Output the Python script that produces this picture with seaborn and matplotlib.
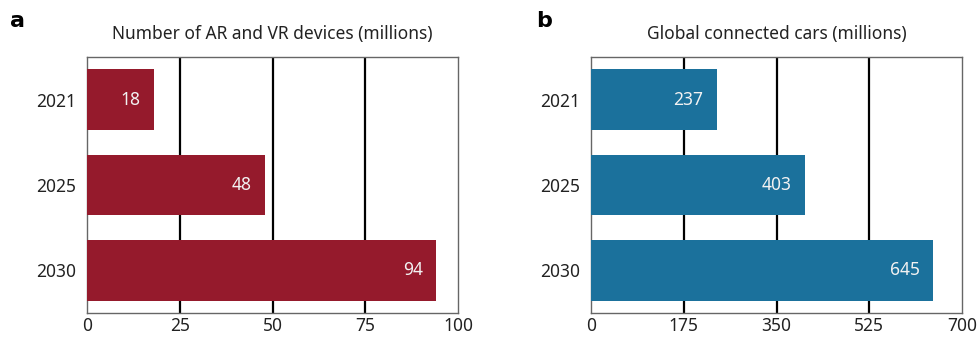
import matplotlib
matplotlib.use("Agg")
import matplotlib.pyplot as plt
import seaborn as sns
import pandas as pd

years = ["2021", "2025", "2030"]
arvr_values = [18, 48, 94]
cars_values = [237, 403, 645]
arvr_ticks = [0, 25, 50, 75, 100]
cars_ticks = [0, 175, 350, 525, 700]
arvr_title = "Number of AR and VR devices (millions)"
cars_title = "Global connected cars (millions)"

sns.set_style("white")
plt.rcParams['font.family'] = ['Noto Sans', 'DejaVu Sans']

fig = plt.figure(figsize=(9.79, 3.39), dpi=100)
W, H = 979, 339
ax_a = fig.add_axes([87 / W, 1 - 313 / H, 371 / W, 256 / H])
ax_b = fig.add_axes([591 / W, 1 - 313 / H, 371 / W, 256 / H])

panels = [
    (ax_a, arvr_values, arvr_ticks, arvr_title, "#951a2c", "a", 10 / W),
    (ax_b, cars_values, cars_ticks, cars_title, "#1b719c", "b", 536 / W),
]

for ax, vals, ticks, title, color, letter, lx in panels:
    df = pd.DataFrame({"year": years, "value": vals})
    sns.barplot(data=df, x="value", y="year", orient="h", color=color,
                width=0.71, ax=ax, saturation=1, zorder=3, linewidth=0,
                edgecolor="none")
    ax.set_xlim(ticks[0], ticks[-1])
    ax.set_ylim(2.5, -0.5)
    ax.set_xticks(ticks)
    ax.set_xticklabels([str(t) for t in ticks], fontsize=12.5, color="#222222")
    ax.tick_params(axis="y", labelsize=12.5, colors="#222222", length=0, pad=8)
    ax.tick_params(axis="x", length=0, pad=3)
    ax.set_xlabel("")
    ax.set_ylabel("")
    for t in ticks[1:-1]:
        ax.axvline(t, color="black", lw=1.6, zorder=1)
    for s in ax.spines.values():
        s.set_color("#666666")
        s.set_linewidth(1.0)
    ax.set_title(title, fontsize=12.5, pad=13, color="#222222")
    for i, v in enumerate(vals):
        ax.annotate(str(v), xy=(v, i), xytext=(-13, 0), textcoords="offset pixels",
                    ha="right", va="center", color="#f2f2f2", fontsize=12.5, zorder=4)
    fig.text(lx, 1 - 21 / H, letter, fontsize=16, fontweight="bold",
             family="DejaVu Sans", va="center", ha="left", color="black")

fig.savefig("out.png", dpi=100)
